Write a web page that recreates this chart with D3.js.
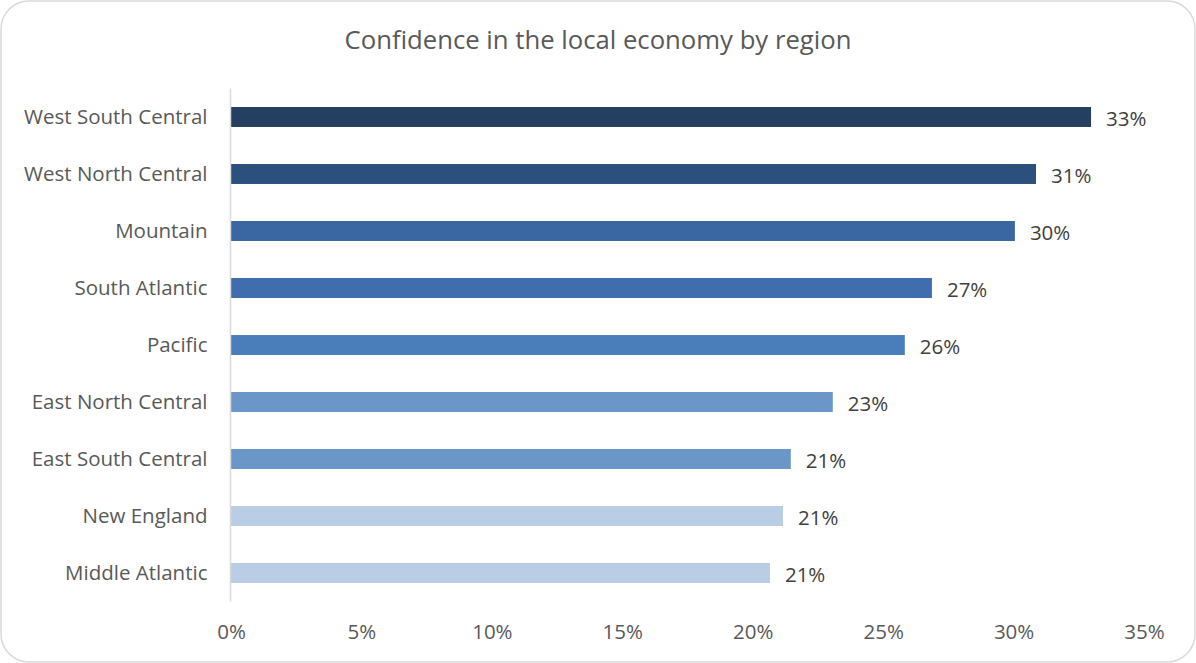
<!DOCTYPE html>
<html>
<head>
<meta charset="utf-8">
<script src="https://cdn.jsdelivr.net/npm/d3@7"></script>
<style>
  html, body { margin: 0; padding: 0; background: #fff; }
  svg { display: block; }
  text { font-family: "Open Sans", Lato, sans-serif; }
</style>
</head>
<body>
<svg id="chart" width="1196" height="663"></svg>
<script>
// Share of respondents confident in their local economy, by census region
const regions = [
  "West South Central", "West North Central", "Mountain", "South Atlantic",
  "Pacific", "East North Central", "East South Central", "New England", "Middle Atlantic"
];
const confidence = [0.3297, 0.3086, 0.3005, 0.2687, 0.2583, 0.2307, 0.2146, 0.2116, 0.2066];
const barColors = [
  "#243f60", "#2c507d", "#3a67a1", "#3e6ead", "#4a7ebb",
  "#6b96c8", "#6b96c8", "#b9cde5", "#b9cde5"
];
const xTicks = [0, 0.05, 0.10, 0.15, 0.20, 0.25, 0.30, 0.35];
const title = "Confidence in the local economy by region";

const W = 1196, H = 663;
const margin = { top: 88.5, right: 52, bottom: 61.5, left: 231 };
const labelSize = 20.5;
const svg = d3.select("#chart");

// Outer frame with rounded corners
svg.append("rect")
  .attr("x", 1).attr("y", 1)
  .attr("width", W - 2).attr("height", H - 2)
  .attr("rx", 28).attr("ry", 28)
  .attr("fill", "#fff")
  .attr("stroke", "#d9d9d9")
  .attr("stroke-width", 1.5);

svg.append("text")
  .attr("x", 598).attr("y", 49)
  .attr("text-anchor", "middle")
  .attr("font-size", 25.7)
  .attr("fill", "#595959")
  .text(title);

const x = d3.scaleLinear()
  .domain([0, 0.35])
  .range([margin.left, W - margin.right]);

const y = d3.scaleBand()
  .domain(regions)
  .range([margin.top, H - margin.bottom])
  .paddingInner(0.65)
  .paddingOuter(0.325);

// Bars
svg.append("g")
  .selectAll("rect")
  .data(regions)
  .join("rect")
  .attr("x", x(0))
  .attr("y", d => y(d))
  .attr("width", (d, i) => x(confidence[i]) - x(0))
  .attr("height", y.bandwidth())
  .attr("fill", (d, i) => barColors[i]);

// Value labels
const fmt = d3.format(".0%");
svg.append("g")
  .selectAll("text")
  .data(regions)
  .join("text")
  .attr("x", (d, i) => x(confidence[i]) + 15)
  .attr("y", d => y(d) + y.bandwidth() / 2)
  .attr("dy", "0.42em")
  .attr("font-size", labelSize)
  .attr("fill", "#404040")
  .text((d, i) => fmt(confidence[i]));

// Category axis
const yAxis = svg.append("g")
  .attr("transform", `translate(${margin.left - 0.5},0)`)
  .call(d3.axisLeft(y).tickSize(0).tickPadding(23));
yAxis.select(".domain")
  .attr("stroke", "#d9d9d9")
  .attr("stroke-width", 1.5)
  .attr("d", `M0,${margin.top}V${H - margin.bottom}`);
yAxis.selectAll("text")
  .attr("font-size", labelSize)
  .attr("fill", "#595959")
  .style("font-family", '"Open Sans", Lato, sans-serif');

// Value axis (labels only)
const xAxis = svg.append("g")
  .attr("transform", `translate(0,${H - margin.bottom})`)
  .call(d3.axisBottom(x).tickValues(xTicks).tickFormat(d3.format(".0%")).tickSize(0).tickPadding(23));
xAxis.select(".domain").remove();
xAxis.selectAll("text")
  .attr("font-size", labelSize)
  .attr("fill", "#595959")
  .style("font-family", '"Open Sans", Lato, sans-serif');
</script>
</body>
</html>
